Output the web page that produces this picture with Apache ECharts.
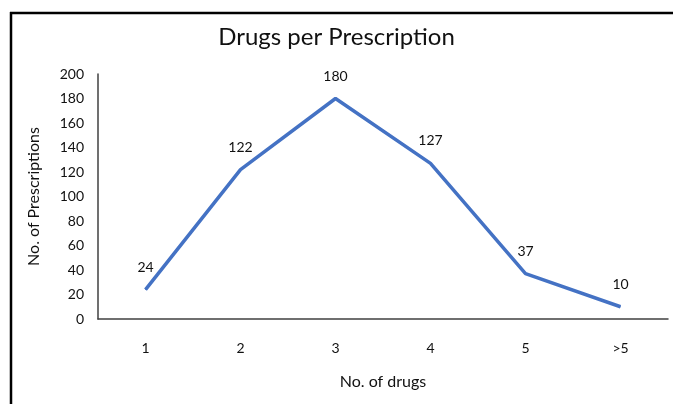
<!DOCTYPE html>
<html>
<head>
<meta charset="utf-8">
<script src="https://cdn.jsdelivr.net/npm/echarts@6/dist/echarts.min.js"></script>
<style>
html,body{margin:0;padding:0;background:#fff;}
#c{width:673px;height:404px;}
</style>
</head>
<body>
<div id="c"></div>
<script>
const categories = ['1', '2', '3', '4', '5', '>5'];
const prescriptions = [24, 122, 180, 127, 37, 10];
const titleText = 'Drugs per Prescription';
const xName = 'No. of drugs';
const yName = 'No. of Prescriptions';

const FONT = 'Lato';
const chart = echarts.init(document.getElementById('c'), null, {renderer: 'canvas'});
chart.setOption({
  backgroundColor: '#ffffff',
  animation: false,
  title: {
    text: titleText,
    left: 'center',
    top: 20,
    textStyle: {fontFamily: FONT, fontSize: 24, fontWeight: 'normal', color: '#111'}
  },
  grid: {left: 98, right: 5, top: 74, bottom: 85},
  xAxis: {
    type: 'category',
    data: categories,
    boundaryGap: true,
    name: xName,
    nameLocation: 'middle',
    nameGap: 55,
    nameTextStyle: {fontFamily: FONT, fontSize: 16, color: '#111'},
    axisLine: {lineStyle: {color: '#404040', width: 1.5}},
    axisTick: {show: false},
    axisLabel: {margin: 22, fontFamily: FONT, fontSize: 14, color: '#111'}
  },
  yAxis: {
    type: 'value',
    min: 0, max: 200, interval: 20,
    name: yName,
    nameLocation: 'middle',
    nameGap: 56,
    nameTextStyle: {fontFamily: FONT, fontSize: 16, color: '#111'},
    axisLine: {show: true, lineStyle: {color: '#404040', width: 1.5}},
    axisTick: {show: false},
    splitLine: {show: false},
    axisLabel: {margin: 14, fontFamily: FONT, fontSize: 14, color: '#111'}
  },
  series: [{
    type: 'line',
    data: prescriptions,
    symbol: 'circle',
    symbolSize: 1,
    showSymbol: true,
    lineStyle: {color: '#4472C4', width: 3.5},
    itemStyle: {color: '#4472C4'},
    label: {show: true, position: 'top', distance: 15, fontFamily: FONT, fontSize: 14, color: '#111'}
  }],
  graphic: [
    {type: 'line', shape: {x1: 10, y1: 13, x2: 673, y2: 13}, style: {stroke: '#000', lineWidth: 2.5}},
    {type: 'line', shape: {x1: 11, y1: 12, x2: 11, y2: 404}, style: {stroke: '#000', lineWidth: 2.5}}
  ]
});
</script>
</body>
</html>
